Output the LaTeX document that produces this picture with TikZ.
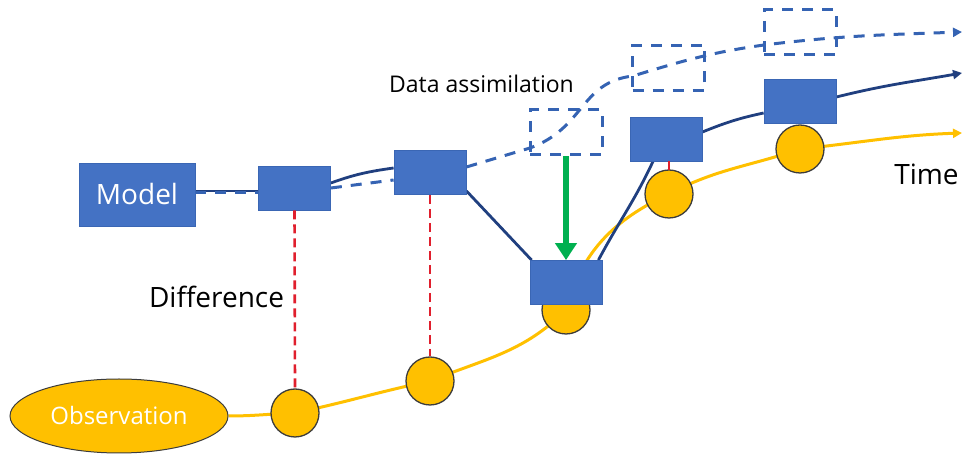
\documentclass[tikz,border=0pt]{standalone}
\usepackage{fontspec}
\setmainfont{Open Sans}
\usetikzlibrary{arrows.meta,backgrounds,shapes.geometric}
\definecolor{boxblue}{HTML}{4472C4}
\definecolor{boxedge}{HTML}{3A66B4}
\definecolor{dashblue}{HTML}{3563B3}
\definecolor{navy}{HTML}{203F7F}
\definecolor{obsyellow}{HTML}{FFC000}
\definecolor{ringgray}{HTML}{3C3C3C}
\definecolor{diffred}{HTML}{E01F2D}
\definecolor{daygreen}{HTML}{00B050}

\begin{document}
\begin{tikzpicture}[x=1pt,y=1pt,
  state/.style={draw=boxedge, line width=0.8pt, fill=boxblue,
    minimum width=72pt, minimum height=44pt, inner sep=0pt},
  ghost/.style={draw=dashblue, line width=3pt, dash pattern=on 11pt off 9pt,
    minimum width=72pt, minimum height=45pt, inner sep=0pt},
  obs/.style={circle, draw=ringgray, line width=1.3pt, fill=obsyellow,
    minimum size=48pt, inner sep=0pt},
  run/.style={draw=navy, line width=2.8pt},
  forecast/.style={draw=dashblue, line width=3pt, dash pattern=on 11pt off 9pt},
  truth/.style={draw=obsyellow, line width=3pt},
  gap/.style={draw=diffred, line width=2.6pt, dash pattern=on 9pt off 5pt},
  lbl/.style={font=\fontsize{28}{30}\selectfont, text=black, inner sep=0pt, anchor=base},
  tip/.style={-{Triangle[length=9pt,width=9pt]}},
]
\useasboundingbox (0,0) rectangle (963,454);

% observations along the true state
\node[ellipse, draw=ringgray, line width=1pt, fill=obsyellow,
  minimum width=218pt, minimum height=74pt, inner sep=0pt, text=white,
  font=\fontsize{24}{26}\selectfont] (ob) at (119,38) {Observation};
\node[obs] (c1) at (295,41) {};
\node[obs] (c2) at (430,73) {};
\node[obs] (c3) at (566,144) {};
\node[obs] (c4) at (669,260) {};
\node[obs] (c5) at (800,305) {};

% model states
\node[state, minimum width=116pt, minimum height=63pt, text=white,
  font=\fontsize{28}{30}\selectfont] (md) at (137,259.5) {Model};
\node[state] (b1) at (294.5,266) {};
\node[state] (b2) at (430,281.5) {};
\node[state] (b3) at (566,171.5) {};
\node[state] (b4) at (666,315) {};
\node[state] (b5) at (800,353) {};

% free-run forecast states
\node[ghost] (d1) at (566,321.5) {};
\node[ghost] (d2) at (668.5,386) {};
\node[ghost] (d3) at (800,421.5) {};

% path ends and bends
\coordinate (yEnd) at (962,321);
\coordinate (nEnd) at (962,381);
\coordinate (fA) at (530,306);
\coordinate (fB) at (633,378);
\coordinate (fC) at (764,409);
\coordinate (fEnd) at (962,422);

\begin{scope}[on background layer]
  \draw[truth, tip] (ob.east) to[out=0,in=182] (c1.center)
    to[out=12,in=192] (c2.center)
    to[out=22,in=225] (c3.center)
    to[out=75,in=205] (c4.center)
    to[out=28,in=199] (c5.center)
    to[out=6,in=182] (yEnd);

  \draw[run] ([yshift=3.5pt]md.east) -- ([yshift=-3pt]b1.west);
  \draw[run] ([yshift=5pt]b1.east) to[out=20,in=188] ([yshift=4.5pt]b2.west);
  \draw[run] ([yshift=4pt]b2.south east) -- ([xshift=2pt]b3.north west);
  \draw[run] ([xshift=-4pt]b3.north east) to[out=62,in=245] ([xshift=-13pt]b4.south);
  \draw[run] ([yshift=7pt]b4.east) to[out=22,in=192] ([yshift=-12pt]b5.west);
  \draw[run, tip] ([yshift=4pt]b5.east) to[out=14,in=190] (nEnd);

  \draw[forecast] ([yshift=1.5pt]md.east) -- ([yshift=-5pt]b1.west);
  \draw[forecast] (b1.east) -- ([yshift=-7.5pt]b2.west);
  \draw[forecast, tip] ([yshift=5.5pt]b2.east) -- (fA)
    .. controls +(55,20) and +(-53,-6) .. (fB)
    to[out=17,in=188] (fC)
    to[out=7,in=182] (fEnd);
\end{scope}

% model-observation differences
\draw[gap] (b1.south) -- (c1.north);
\draw[gap] (b2.south) -- (c2.north);
\draw[gap] ([xshift=3pt]b4.south) -- ([yshift=-5pt]c4.north);

% analysis update
\draw[daygreen, line width=5.5pt, -{Triangle[length=17pt,width=21pt]}] (d1.south) -- (b3.north);

% labels
\node[lbl, font=\fontsize{23}{25}\selectfont] (da) at (481.5,361) {Data assimilation};
\node[lbl] (df) at (216.5,146) {Difference};
\node[lbl] (tm) at (926.5,269) {Time};
\end{tikzpicture}
\end{document}
